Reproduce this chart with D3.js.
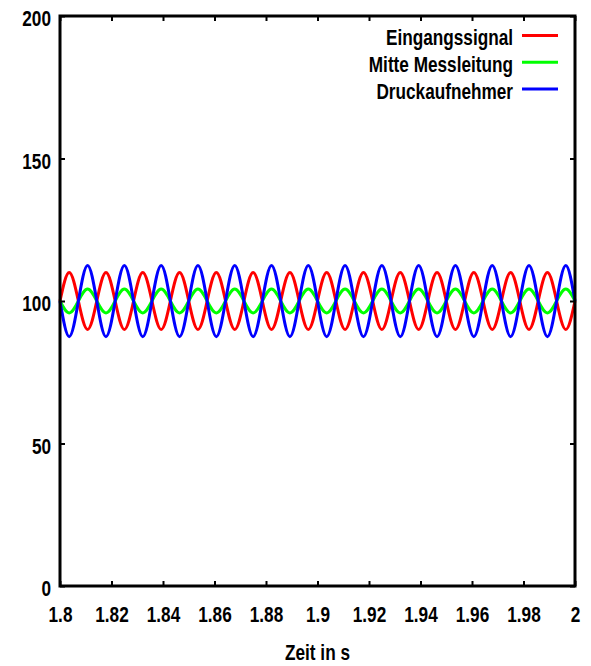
<!DOCTYPE html>
<html>
<head>
<meta charset="utf-8">
<script src="https://cdn.jsdelivr.net/npm/d3@7"></script>
<style>
  body { margin: 0; background: #fff; }
  text { font-family: "Liberation Sans", Arial, sans-serif; font-weight: bold; font-size: 21.5px; fill: #000; }
</style>
</head>
<body>
<svg id="chart"></svg>
<script>
// sample times (quarter periods of the 70 Hz signal)
const times = [1.8, 1.80357, 1.80714, 1.81071, 1.81429, 1.81786, 1.82143, 1.825, 1.82857, 1.83214,
  1.83571, 1.83929, 1.84286, 1.84643, 1.85, 1.85357, 1.85714, 1.86071, 1.86429, 1.86786,
  1.87143, 1.875, 1.87857, 1.88214, 1.88571, 1.88929, 1.89286, 1.89643, 1.9, 1.90357,
  1.90714, 1.91071, 1.91429, 1.91786, 1.92143, 1.925, 1.92857, 1.93214, 1.93571, 1.93929,
  1.94286, 1.94643, 1.95, 1.95357, 1.95714, 1.96071, 1.96429, 1.96786, 1.97143, 1.975,
  1.97857, 1.98214, 1.98571, 1.98929, 1.99286, 1.99643, 2.0];

const eingang = [100, 110, 100, 90, 100, 110, 100, 90, 100, 110, 100, 90, 100, 110, 100, 90,
  100, 110, 100, 90, 100, 110, 100, 90, 100, 110, 100, 90, 100, 110, 100, 90,
  100, 110, 100, 90, 100, 110, 100, 90, 100, 110, 100, 90, 100, 110, 100, 90,
  100, 110, 100, 90, 100, 110, 100, 90, 100];
const mitte = [100, 95.8, 100, 104.2, 100, 95.8, 100, 104.2, 100, 95.8, 100, 104.2, 100, 95.8, 100, 104.2,
  100, 95.8, 100, 104.2, 100, 95.8, 100, 104.2, 100, 95.8, 100, 104.2, 100, 95.8, 100, 104.2,
  100, 95.8, 100, 104.2, 100, 95.8, 100, 104.2, 100, 95.8, 100, 104.2, 100, 95.8, 100, 104.2,
  100, 95.8, 100, 104.2, 100, 95.8, 100, 104.2, 100];
const druck = [100, 87.5, 100, 112.5, 100, 87.5, 100, 112.5, 100, 87.5, 100, 112.5, 100, 87.5, 100, 112.5,
  100, 87.5, 100, 112.5, 100, 87.5, 100, 112.5, 100, 87.5, 100, 112.5, 100, 87.5, 100, 112.5,
  100, 87.5, 100, 112.5, 100, 87.5, 100, 112.5, 100, 87.5, 100, 112.5, 100, 87.5, 100, 112.5,
  100, 87.5, 100, 112.5, 100, 87.5, 100, 112.5, 100];

const seriesNames = ["Eingangssignal", "Mitte Messleitung", "Druckaufnehmer"];
const seriesColors = ["#ff0000", "#00ff00", "#0000ff"];
const seriesValues = [eingang, mitte, druck];

const xTicks = [1.8, 1.82, 1.84, 1.86, 1.88, 1.9, 1.92, 1.94, 1.96, 1.98, 2.0];
const xTickLabels = ["1.8", "1.82", "1.84", "1.86", "1.88", "1.9", "1.92", "1.94", "1.96", "1.98", "2"];
const yTicks = [0, 50, 100, 150, 200];
const xTitle = "Zeit in s";

// narrow look of the gnuplot font
const squeeze = 0.8;

// Set up SVG dimensions and margins
const margin = {top: 16, right: 16, bottom: 80, left: 60};
const width = 591 - margin.left - margin.right;
const height = 666 - margin.top - margin.bottom;

const svg = d3.select("#chart")
  .attr("width", 591)
  .attr("height", 666)
  .append("g")
  .attr("transform", "translate(" + margin.left + "," + margin.top + ")");

const x = d3.scaleLinear().domain([1.8, 2.0]).range([0, width]);
const y = d3.scaleLinear().domain([0, 200]).range([height, 0]);

// curves
const line = d3.line()
  .x(d => x(d[0]))
  .y(d => y(d[1]))
  .curve(d3.curveNatural);

seriesValues.forEach((vals, i) => {
  svg.append("path")
    .datum(times.map((t, j) => [t, vals[j]]))
    .attr("fill", "none")
    .attr("stroke", seriesColors[i])
    .attr("stroke-width", 3)
    .attr("d", line);
});

// axes, gnuplot style: ticks inward, mirrored
const tick = 5;
svg.append("g")
  .attr("transform", "translate(0," + height + ")")
  .call(d3.axisBottom(x).tickValues(xTicks).tickSize(-tick).tickPadding(21)
    .tickFormat((d, i) => xTickLabels[i]));
svg.append("g")
  .call(d3.axisTop(x).tickValues(xTicks).tickSize(-tick).tickFormat(""));
svg.append("g")
  .call(d3.axisLeft(y).tickValues(yTicks).tickSize(-tick).tickPadding(9));
svg.append("g")
  .attr("transform", "translate(" + width + ",0)")
  .call(d3.axisRight(y).tickValues(yTicks).tickSize(-tick).tickFormat(""));

svg.selectAll(".domain").remove();
svg.selectAll(".tick line").attr("stroke", "#000").attr("stroke-width", 2);
svg.selectAll(".tick text").attr("font-size", null).attr("font-family", null).attr("fill", "#000");
svg.selectAll(".tick text").filter(function() { return this.getAttribute("dy") === "0.32em"; })
  .attr("dy", "0.45em");

// squeeze every text horizontally around its own anchor
function squeezeText(sel) {
  sel.each(function() {
    const t = d3.select(this);
    const tx = +t.attr("x") || 0;
    t.attr("x", 0).attr("transform", "translate(" + tx + ",0) scale(" + squeeze + ",1)");
  });
}
squeezeText(svg.selectAll(".tick text"));

// frame
svg.append("rect")
  .attr("width", width)
  .attr("height", height)
  .attr("fill", "none")
  .attr("stroke", "#000")
  .attr("stroke-width", 3);

// x title
svg.append("text")
  .attr("x", width / 2)
  .attr("y", height + 74)
  .attr("text-anchor", "middle")
  .text(xTitle)
  .call(squeezeText);

// legend
const legend = svg.append("g").attr("transform", "translate(" + (width - 62) + ",19.5)");
seriesNames.forEach((name, i) => {
  const row = legend.append("g").attr("transform", "translate(0," + (i * 26.8) + ")");
  row.append("text")
    .attr("x", 0)
    .attr("y", 9.5)
    .attr("text-anchor", "end")
    .text(name)
    .call(squeezeText);
  row.append("line")
    .attr("x1", 9).attr("x2", 45)
    .attr("stroke", seriesColors[i])
    .attr("stroke-width", 3);
});
</script>
</body>
</html>
